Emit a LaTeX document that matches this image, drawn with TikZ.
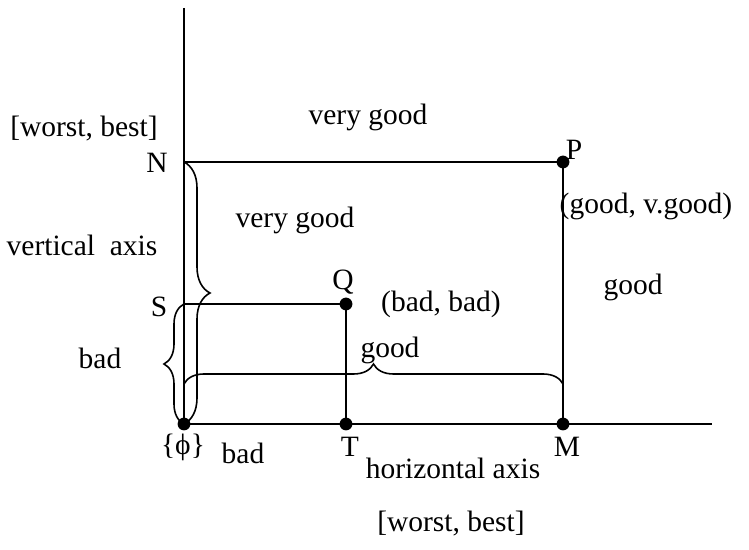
\documentclass[tikz,border=0pt]{standalone}
\usepackage{fontspec}
\setmainfont{Liberation Serif}
\usetikzlibrary{positioning, decorations.pathreplacing, calc}

\begin{document}
\begin{tikzpicture}[
  x=0.5bp, y=-0.5bp,
  axis/.style   = {line width=0.8bp},
  link/.style   = {line width=0.8bp},
  dot/.style    = {circle, fill=black, inner sep=0pt, minimum size=6.4bp},
  lbl/.style    = {font=\fontsize{14.8}{17}\selectfont, inner sep=0pt},
  curly/.style  = {decorate, decoration={brace, amplitude=#1}, line width=0.8bp},
  curly/.default = 10bp
]
\useasboundingbox (0,0) rectangle (749,550);

% points
\coordinate (O) at (184,424);
\coordinate (N) at (184,162);
\coordinate (S) at (184,304);
\coordinate (P) at (563,162);
\coordinate (M) at (563,424);
\coordinate (Q) at (346,304);
\coordinate (T) at (346,424);
\coordinate (top) at (184,8);
\coordinate (right) at (712,424);
\coordinate (brL) at (184,384);
\coordinate (brR) at (563,384);

% axes
\draw[axis] (top) -- (O) -- (right);

% rectangles
\draw[link] (N) -- (P) -- (M);
\draw[link] (S) -- (Q) -- (T);

% braces
\draw[curly=13bp] (N) -- (O);
\draw[curly] (O) -- (S);
\draw[curly] (brL) -- (brR);

% dots
\node[dot] (o) at (O) {};
\node[dot] (p) at (P) {};
\node[dot] (m) at (M) {};
\node[dot] (q) at (Q) {};
\node[dot] (t) at (T) {};

% labels
\node[lbl] (ws1)  at (84,129)  {[worst, best]};
\node[lbl] (vg1)  at (368,117) {very good};
\node[lbl] (lN)   at (157,163) {N};
\node[lbl] (lP)   at (574,150) {P};
\node[lbl] (vg2)  at (295,220) {very good};
\node[lbl] (va)   at (82,245)  {vertical\ \ axis};
\node[lbl] (gvg)  at (646,206) {(good, v.good)};
\node[lbl] (lQ)   at (343,282) {Q};
\node[lbl] (bb)   at (441,304) {(bad, bad)};
\node[lbl] (gd1)  at (633,287) {good};
\node[lbl] (lS)   at (159,307) {S};
\node[lbl] (bd1)  at (100,358) {bad};
\node[lbl] (gd2)  at (390,350) {good};
\node[lbl] (phi)  at (183,447) {\{ϕ\}};
\node[lbl] (bd2)  at (243,453) {bad};
\node[lbl] (lT)   at (350,447) {T};
\node[lbl] (ha)   at (453,468) {horizontal axis};
\node[lbl] (lM)   at (567,447) {M};
\node[lbl] (ws2)  at (451,524) {[worst, best]};
\end{tikzpicture}
\end{document}
